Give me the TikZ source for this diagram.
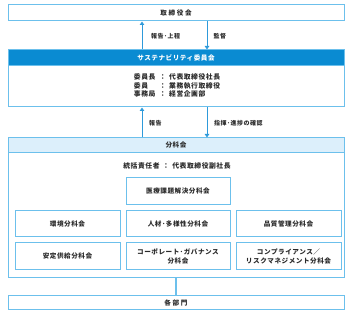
\documentclass[tikz,border=0pt]{standalone}
\usepackage{fontspec}
\setmainfont{Noto Sans CJK JP}[LetterSpace=8]
\newfontfamily\widefont{Noto Sans CJK JP}[LetterSpace=25]
\usetikzlibrary{arrows.meta}
\definecolor{hdrblue}{HTML}{0A8BD2}
\definecolor{lineblue}{HTML}{6CC0EC}
\definecolor{arrblue}{HTML}{2E9ADA}
\definecolor{lightfill}{HTML}{DCEFFB}
\definecolor{txt}{HTML}{2A2A2A}
\tikzset{
  box/.style={draw=lineblue, line width=1pt, fill=white, inner sep=0pt, align=center,
    font=\fontsize{6.6}{9}\selectfont\bfseries, text=txt},
  widebox/.style={box, font=\widefont\fontsize{6.6}{9}\selectfont\bfseries},
  hdr/.style={box, fill=hdrblue, draw=lineblue, text=white},
  lhdr/.style={box, fill=lightfill},
  frame/.style={draw=lineblue, line width=1pt, fill=white, inner sep=0pt},
  lbl/.style={font=\fontsize{6}{8}\selectfont\bfseries, text=txt, inner sep=0pt, anchor=west},
  txtnode/.style={font=\fontsize{6.8}{9}\selectfont\bfseries, text=txt, inner sep=0pt, align=center},
  arr/.style={draw=arrblue, line width=1pt, -{Triangle[length=3.5pt,width=4.5pt]}},
  link/.style={draw=lineblue, line width=1.4pt}
}
\begin{document}
\begin{tikzpicture}[x=1pt,y=-1pt]
\useasboundingbox (0,0) rectangle (349,315);
% top board
\node[widebox, minimum width=336pt, minimum height=16pt] (board) at (176,13) {取締役会};
% sustainability committee
\node[frame, minimum width=336pt, minimum height=57pt] (sus) at (176,78.5) {};
\node[hdr, minimum width=336pt, minimum height=16pt] (sushdr) at (176,58) {サステナビリティ委員会};
\node[txtnode] (members) at (177,86.5) {\begin{tabular}{@{}l@{\hspace{4pt}}l@{\hspace{3pt}}l@{}}委員長&：&代表取締役社長\\[-0.5pt]委員&：&業務執行取締役\\[-0.5pt]事務局&：&経営企画部\end{tabular}};
% arrows between board and committee
\coordinate (ux) at (142,0);
\coordinate (dx) at (207,0);
\draw[arr] (sushdr.north -| ux) -- (board.south -| ux);
\draw[arr] (board.south -| dx) -- (sushdr.north -| dx);
\node[lbl] (l1) at (151,36) {報告･上程};
\node[lbl] (l2) at (213.5,36) {監督};
% subcommittees
\node[frame, minimum width=336pt, minimum height=140pt] (sub) at (176,208) {};
\node[lhdr, minimum width=336pt, minimum height=15pt] (subhdr) at (176,145.5) {分科会};
\draw[arr] (subhdr.north -| ux) -- (sus.south -| ux);
\draw[arr] (sus.south -| dx) -- (subhdr.north -| dx);
\node[lbl] (l3) at (149,123) {報告};
\node[lbl] (l4) at (214,123) {指揮･進捗の確認};
\node[txtnode] (chief) at (177,166) {統括責任者\hspace{3pt}：\hspace{3pt}代表取締役副社長};
\node[box, minimum width=104pt, minimum height=27pt] (med) at (178,191.5) {医療課題解決分科会};
\node[box, minimum width=105pt, minimum height=26pt] (env) at (67.5,224) {環境分科会};
\node[box, minimum width=104pt, minimum height=26pt] (hr) at (178,224) {人材･多様性分科会};
\node[box, minimum width=105pt, minimum height=26pt] (qa) at (288.5,224) {品質管理分科会};
\node[box, minimum width=105pt, minimum height=27pt] (sup) at (67.5,256.5) {安定供給分科会};
\node[box, minimum width=104pt, minimum height=27pt] (gov) at (178,256.5) {コーポレート･ガバナンス\\分科会};
\node[box, minimum width=105pt, minimum height=27pt] (comp) at (288.5,256.5) {コンプライアンス／\\リスクマネジメント分科会};
% departments
\node[widebox, minimum width=336pt, minimum height=14pt] (dept) at (176,303) {各部門};
\draw[link] (sub.south) -- (dept.north);
\end{tikzpicture}
\end{document}
